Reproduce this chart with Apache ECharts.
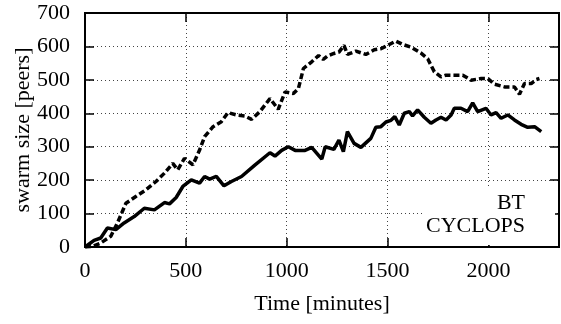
<!DOCTYPE html>
<html>
<head>
    <meta charset="utf-8">
    <script src="https://cdn.jsdelivr.net/npm/echarts@6/dist/echarts.min.js"></script>
    <style>
        body { margin: 0; background: #fff; }
    </style>
</head>
<body>
<div id="main" style="width: 561px;height:324px;"></div>

<script type="text/javascript">
    // data (minutes, peers)
    var btTime = [0, 40, 78, 128, 161, 203, 252, 302, 352, 394, 435, 460, 493, 535, 568, 593, 635, 676, 709, 751, 792, 826, 867, 917, 958, 992, 1033, 1058, 1083, 1124, 1158, 1181, 1202, 1234, 1259, 1284, 1301, 1343, 1392, 1434, 1467, 1500, 1541, 1575, 1616, 1666, 1699, 1732, 1765, 1790, 1831, 1873, 1914, 1964, 1997, 2030, 2080, 2129, 2154, 2179, 2212, 2237, 2253];
    var btSize = [0, 2, 12, 32, 72, 131, 151, 171, 196, 221, 250, 231, 265, 246, 290, 330, 360, 375, 402, 395, 392, 382, 405, 444, 412, 464, 459, 474, 534, 554, 573, 561, 571, 579, 583, 603, 576, 586, 576, 590, 593, 603, 616, 606, 598, 580, 563, 524, 509, 514, 514, 514, 499, 504, 504, 487, 479, 479, 457, 489, 489, 501, 504];

    var cyTime = [0, 45, 78, 111, 153, 194, 244, 294, 344, 394, 419, 452, 485, 527, 568, 593, 618, 651, 689, 726, 776, 842, 917, 942, 975, 1008, 1042, 1091, 1124, 1174, 1191, 1234, 1259, 1281, 1301, 1334, 1368, 1417, 1442, 1467, 1492, 1517, 1536, 1558, 1583, 1608, 1624, 1649, 1682, 1715, 1740, 1765, 1790, 1815, 1831, 1864, 1897, 1922, 1947, 1988, 2013, 2038, 2063, 2096, 2129, 2162, 2195, 2229, 2262];
    var cySize = [0, 20, 27, 57, 52, 72, 91, 116, 111, 133, 129, 148, 181, 201, 191, 211, 203, 211, 183, 196, 211, 245, 282, 272, 289, 300, 289, 289, 298, 263, 300, 292, 320, 285, 345, 310, 298, 325, 358, 360, 374, 379, 390, 365, 400, 405, 392, 410, 388, 370, 380, 388, 380, 395, 415, 415, 405, 431, 405, 415, 395, 402, 385, 395, 380, 367, 358, 360, 345];

    var xTicks = [0, 500, 1000, 1500, 2000];
    var yTicks = [0, 100, 200, 300, 400, 500, 600, 700];
    var legendNames = ['BT', 'CYCLOPS'];

    var font = 'Liberation Serif';

    function pairs(xs, ys) {
        var out = [];
        for (var i = 0; i < xs.length; i++) out.push([xs[i], ys[i]]);
        return out;
    }

    var myChart = echarts.init(document.getElementById('main'));

    var gridDots = { show: true, lineStyle: { color: '#444', width: 1, type: [1, 3] } };
    var noLabel = { show: false };

    var option = {
        animation: false,
        grid: { left: 85, right: 2, top: 13, bottom: 77, outerBoundsMode: 'none', containLabel: false, show: true, borderColor: '#000', borderWidth: 2 },
        xAxis: [{
            type: 'value', min: 0, max: 2350, interval: 500,
            name: 'Time [minutes]', nameLocation: 'middle', nameGap: 46, nameMoveOverlap: false,
            nameTextStyle: { fontFamily: font, fontSize: 22, color: '#000' },
            axisLine: { show: true, onZero: false, lineStyle: { color: '#000', width: 2 } },
            axisTick: { show: true, inside: true, length: 9, lineStyle: { color: '#000', width: 1.5 } },
            axisLabel: {
                fontFamily: font, fontSize: 22, color: '#000', margin: 13, showMaxLabel: false,
                formatter: function (v) { return xTicks.indexOf(v) >= 0 ? String(v) : ''; }
            },
            splitLine: gridDots
        }, {
            type: 'value', position: 'top', min: 0, max: 2350, interval: 500,
            axisLine: { show: true, onZero: false, lineStyle: { color: '#000', width: 2 } },
            axisTick: { show: true, inside: true, length: 9, lineStyle: { color: '#000', width: 1.5 } },
            axisLabel: noLabel, splitLine: { show: false }
        }],
        yAxis: [{
            type: 'value', min: 0, max: 700, interval: 100,
            name: 'swarm size [peers]', nameLocation: 'middle', nameGap: 51, nameRotate: 90, nameMoveOverlap: false,
            nameTextStyle: { fontFamily: font, fontSize: 22, color: '#000' },
            axisLine: { show: true, onZero: false, lineStyle: { color: '#000', width: 2 } },
            axisTick: { show: true, inside: true, length: 9, lineStyle: { color: '#000', width: 1.5 } },
            axisLabel: {
                fontFamily: font, fontSize: 22, color: '#000', margin: 15,
                formatter: function (v) { return yTicks.indexOf(v) >= 0 ? String(v) : ''; }
            },
            splitLine: gridDots
        }, {
            type: 'value', position: 'right', min: 0, max: 700, interval: 100,
            axisLine: { show: true, onZero: false, lineStyle: { color: '#000', width: 2 } },
            axisTick: { show: true, inside: true, length: 9, lineStyle: { color: '#000', width: 1.5 } },
            axisLabel: noLabel, splitLine: { show: false }
        }],
        // key box, text only like the original
        graphic: [
            { type: 'rect', left: 423, top: 189, shape: { width: 132, height: 56 }, style: { fill: '#fff' }, z: 5 },
            { type: 'text', right: 36, top: 192, style: { text: legendNames[0], font: '22px "Liberation Serif"', fill: '#000', textAlign: 'right' }, z: 6 },
            { type: 'text', right: 36, top: 215, style: { text: legendNames[1], font: '22px "Liberation Serif"', fill: '#000', textAlign: 'right' }, z: 6 }
        ],
        series: [{
            name: legendNames[0], type: 'line', showSymbol: false, z: 3,
            data: pairs(btTime, btSize),
            lineStyle: { color: '#000', width: 3.5, type: [6, 3] }
        }, {
            name: legendNames[1], type: 'line', showSymbol: false, z: 3,
            data: pairs(cyTime, cySize),
            lineStyle: { color: '#000', width: 3.5 }
        }]
    };

    myChart.setOption(option);
</script>
</body>
</html>
